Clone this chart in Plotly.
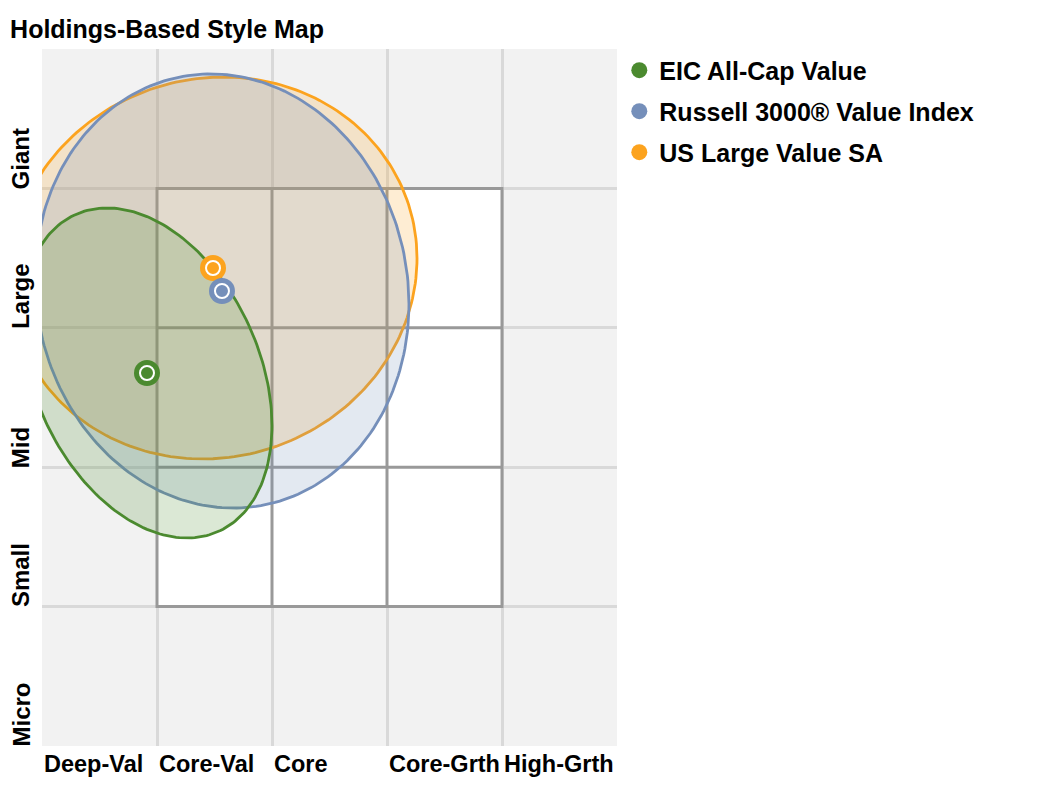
import numpy as np
import plotly.graph_objects as go

# style map data (style score on x, size score on y, 0-5 grid units)
funds = ["EIC All-Cap Value", "Russell 3000® Value Index", "US Large Value SA"]
style_score = [0.913, 1.565, 1.487]
size_score = [2.676, 3.264, 3.429]
style_spread = [1.087, 1.626, 1.774]
size_spread = [1.184, 1.557, 1.370]
spread_corr = [-0.32, -0.06, 0.05]

style_labels = ["Deep-Val", "Core-Val", "Core", "Core-Grth", "High-Grth"]
size_labels = ["Micro", "Small", "Mid", "Large", "Giant"]

colors = ["#4b8a2f", "#758fba", "#fca31e"]
fills = ["rgba(75,138,47,0.2)", "rgba(117,143,186,0.2)", "rgba(250,164,33,0.2)"]

FONT = "Liberation Sans, Arial, sans-serif"

fig = go.Figure()

# ellipses: draw orange first, then blue, then green on top
t = np.linspace(0, 2 * np.pi, 241)
for i in [2, 1, 0]:
    ex = style_score[i] + style_spread[i] * np.cos(t)
    ey = size_score[i] + size_spread[i] * (spread_corr[i] * np.cos(t)
                                           + np.sqrt(1 - spread_corr[i] ** 2) * np.sin(t))
    fig.add_trace(go.Scatter(
        x=ex, y=ey, mode="lines", fill="toself",
        fillcolor=fills[i], line=dict(color=colors[i], width=2.8),
        showlegend=False, hoverinfo="skip"
    ))

# centroids: outer dot + inner ringed dot
for i in [2, 1, 0]:
    fig.add_trace(go.Scatter(
        x=[style_score[i]], y=[size_score[i]], mode="markers",
        marker=dict(size=26, color=colors[i], line=dict(width=0)),
        name=funds[i], legendrank=i + 1, legendgroup=funds[i]
    ))
    fig.add_trace(go.Scatter(
        x=[style_score[i]], y=[size_score[i]], mode="markers",
        marker=dict(size=14, color=colors[i], line=dict(width=2, color="white")),
        showlegend=False, hoverinfo="skip", legendgroup=funds[i]
    ))

# 3x3 white style box with darker lines
fig.add_shape(type="rect", x0=1, x1=4, y0=1, y1=4, layer="between",
              fillcolor="white", line=dict(color="#999999", width=3))
for v in [2, 3]:
    fig.add_shape(type="line", x0=v, x1=v, y0=1, y1=4, layer="between",
                  line=dict(color="#999999", width=3))
    fig.add_shape(type="line", x0=1, x1=4, y0=v, y1=v, layer="between",
                  line=dict(color="#999999", width=3))

# category labels, left/bottom aligned to each band
for i, lab in enumerate(style_labels):
    fig.add_annotation(x=i, y=0, xref="x", yref="paper", text=lab,
                       showarrow=False, xanchor="left", yanchor="top",
                       xshift=0, yshift=-3,
                       font=dict(family=FONT, size=23.5, color="black", weight="bold"))
for i, lab in enumerate(size_labels):
    fig.add_annotation(x=0, y=i, xref="paper", yref="y", text=lab,
                       showarrow=False, xanchor="right", yanchor="bottom",
                       textangle=-90, xshift=-6, yshift=-3,
                       font=dict(family=FONT, size=24, color="black", weight="bold"))

fig.update_xaxes(range=[0, 5], tickvals=[1, 2, 3, 4], showticklabels=False,
                 showgrid=True, gridcolor="#d9d9d9", gridwidth=2.5,
                 zeroline=False, showline=False, ticks="", fixedrange=True)
fig.update_yaxes(range=[0, 5], tickvals=[1, 2, 3, 4], showticklabels=False,
                 showgrid=True, gridcolor="#d9d9d9", gridwidth=2.5,
                 zeroline=False, showline=False, ticks="", fixedrange=True)

fig.update_layout(
    width=1044, height=775,
    margin=dict(l=34, r=435, t=41, b=37),
    paper_bgcolor="white", plot_bgcolor="#f2f2f2",
    font=dict(family=FONT, size=24, color="black", weight="bold"),
    title=dict(text="Holdings-Based Style Map", x=0.002, xanchor="left",
               xref="container", y=0.973, yref="container", yanchor="middle",
               font=dict(family=FONT, size=25, color="black", weight="bold")),
    showlegend=True,
    legend=dict(x=1.004, xanchor="left", y=1.0022, yanchor="top",
                traceorder="grouped", tracegroupgap=5.5, itemsizing="trace",
                bgcolor="rgba(0,0,0,0)",
                font=dict(family=FONT, size=25, color="black", weight="bold")),
)

fig.write_html("out.html")
